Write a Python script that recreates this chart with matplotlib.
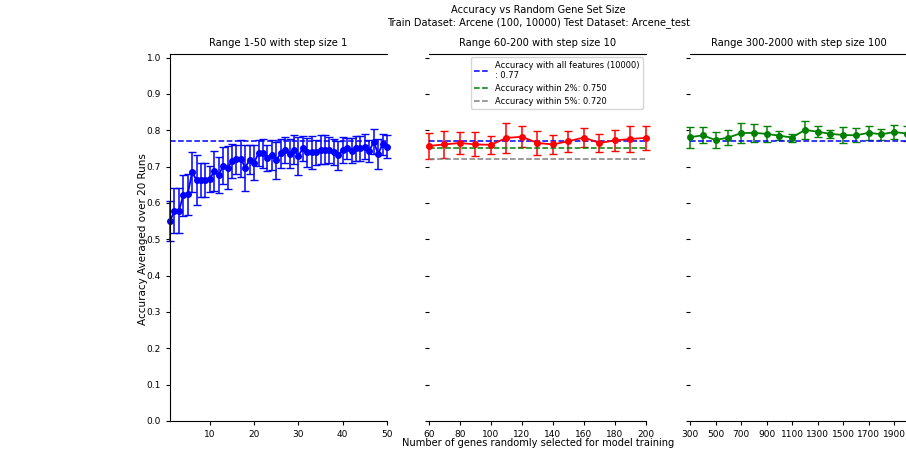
import matplotlib
matplotlib.use('Agg')
import matplotlib.pyplot as plt


# Rango 1: 1-50 paso 1
sizes_a = list(range(1, 51))
acc_a = [0.550, 0.578, 0.578, 0.621, 0.624, 0.684, 0.663, 0.663, 0.663, 0.666,
         0.687, 0.677, 0.702, 0.697, 0.715, 0.720, 0.722, 0.697, 0.719, 0.711,
         0.737, 0.737, 0.724, 0.732, 0.717, 0.737, 0.746, 0.735, 0.746, 0.730,
         0.750, 0.739, 0.739, 0.739, 0.746, 0.746, 0.746, 0.740, 0.731, 0.746,
         0.750, 0.744, 0.750, 0.750, 0.755, 0.742, 0.769, 0.735, 0.761, 0.755]
std_a = [0.055, 0.062, 0.062, 0.057, 0.056, 0.055, 0.068, 0.047, 0.046, 0.035,
         0.055, 0.050, 0.051, 0.060, 0.046, 0.040, 0.050, 0.063, 0.040, 0.048,
         0.035, 0.040, 0.036, 0.040, 0.050, 0.040, 0.035, 0.040, 0.040, 0.052,
         0.035, 0.040, 0.045, 0.035, 0.040, 0.040, 0.035, 0.035, 0.040, 0.035,
         0.030, 0.035, 0.035, 0.035, 0.035, 0.030, 0.035, 0.042, 0.030, 0.032]

# Rango 2: 60-200 paso 10
sizes_b = list(range(60, 201, 10))
acc_b = [0.757, 0.761, 0.765, 0.761, 0.760, 0.779, 0.782, 0.765,
         0.761, 0.770, 0.780, 0.765, 0.772, 0.776, 0.779]
std_b = [0.036, 0.038, 0.030, 0.033, 0.024, 0.041, 0.029, 0.033,
         0.026, 0.029, 0.025, 0.024, 0.029, 0.036, 0.034]

# Rango 3: 300-2000 paso 100
sizes_c = list(range(300, 2001, 100))
acc_c = [0.781, 0.786, 0.773, 0.780, 0.792, 0.793, 0.790, 0.785, 0.780,
         0.801, 0.796, 0.790, 0.787, 0.786, 0.793, 0.789, 0.795, 0.791]
std_c = [0.029, 0.022, 0.023, 0.021, 0.028, 0.025, 0.021, 0.013, 0.011,
         0.024, 0.015, 0.012, 0.021, 0.019, 0.019, 0.015, 0.019, 0.020]

FULL_ACC = 0.77
N_FEATURES = 10000
WITHIN_2 = 0.750
WITHIN_5 = 0.720

RANGES = [
    (sizes_a, acc_a, std_a, 'blue', 'Range 1-50 with step size 1', (1, 50), list(range(10, 51, 10))),
    (sizes_b, acc_b, std_b, 'red', 'Range 60-200 with step size 10', (60, 200), list(range(60, 201, 20))),
    (sizes_c, acc_c, std_c, 'green', 'Range 300-2000 with step size 100', (300, 2000), list(range(300, 2000, 200))),
]

fig = plt.figure(figsize=(9.06, 4.54), dpi=100)
lefts = [0.1876, 0.4735, 0.7616]
axes = [fig.add_axes([l, 0.0727, 0.2395, 0.8085]) for l in lefts]

for i, (ax, (xs, ys, es, color, title, xlim, xticks)) in enumerate(zip(axes, RANGES)):
    ax.errorbar(xs, ys, yerr=es, color=color, marker='o', markersize=4,
                linewidth=1.3, elinewidth=1.1, capsize=3, clip_on=False)
    ax.axhline(FULL_ACC, color='blue', linestyle='--', linewidth=1.1,
               label=f'Accuracy with all features ({N_FEATURES})\n: {FULL_ACC}')
    if i == 1:
        ax.axhline(WITHIN_2, color='green', linestyle='--', linewidth=1.1,
                   label=f'Accuracy within 2%: {WITHIN_2:.3f}')
        ax.axhline(WITHIN_5, color='gray', linestyle='--', linewidth=1.1,
                   label=f'Accuracy within 5%: {WITHIN_5:.3f}')
        ax.legend(loc='upper right', fontsize=6, handlelength=1.7,
                  borderaxespad=0.4, labelspacing=0.45)

    ax.set_xlim(*xlim)
    ax.set_ylim(0, 1.01)
    ax.set_xticks(xticks)
    ax.set_yticks([k / 10 for k in range(11)])
    ax.set_title(title, fontsize=7.2)
    ax.tick_params(labelsize=6.5, length=3)
    ax.spines['right'].set_visible(False)
    if i > 0:
        ax.spines['left'].set_visible(False)
        ax.set_yticklabels([])

fig.suptitle('Accuracy vs Random Gene Set Size\n'
             'Train Dataset: Arcene (100, 10000) Test Dataset: Arcene_test',
             x=0.594, y=0.988, fontsize=7.1, va='top', linespacing=1.2)
fig.text(0.594, 0.024, 'Number of genes randomly selected for model training',
         ha='center', va='center', fontsize=7.1)
fig.text(0.158, 0.4725, 'Accuracy Averaged over 20 Runs',
         ha='center', va='center', rotation=90, fontsize=7.5)

plt.savefig('out.png', dpi=100)
plt.close()
